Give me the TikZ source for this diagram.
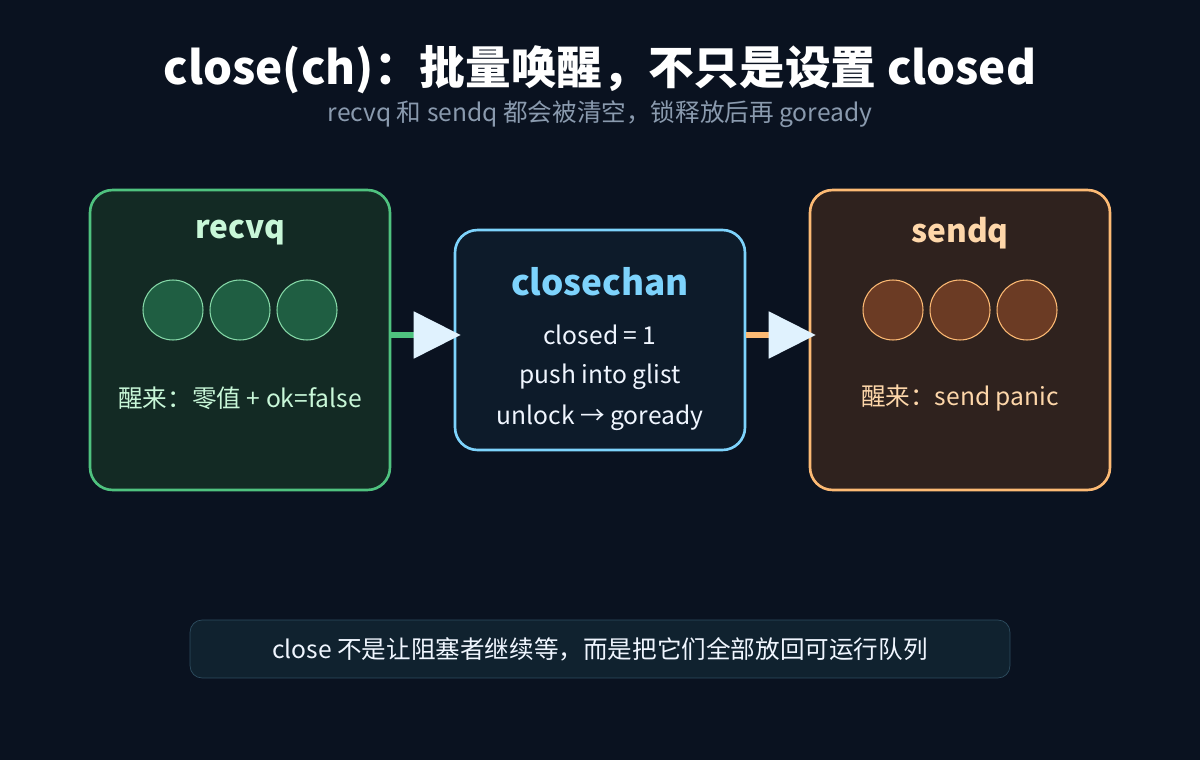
\documentclass[tikz,border=0pt]{standalone}
\usepackage{fontspec}
\setmainfont{Noto Sans CJK SC}
\usetikzlibrary{arrows.meta}
\definecolor{bg}{HTML}{0A1220}
\definecolor{gfill}{HTML}{132A24}\definecolor{gline}{HTML}{4FC27F}
\definecolor{gcirc}{HTML}{1F5E42}\definecolor{gcircl}{HTML}{86D9A8}\definecolor{gtext}{HTML}{C8F7D8}
\definecolor{bfill}{HTML}{0D1B2A}\definecolor{bline}{HTML}{7DD3FC}\definecolor{btext}{HTML}{F0F6FF}
\definecolor{ofill}{HTML}{2F221E}\definecolor{oline}{HTML}{FDBA74}
\definecolor{ocirc}{HTML}{6B3B24}\definecolor{otext}{HTML}{FED7AA}
\definecolor{head}{HTML}{E0F2FE}\definecolor{sub}{HTML}{8A9AAE}
\definecolor{nfill}{HTML}{10222F}\definecolor{nline}{HTML}{2E4D60}
\begin{document}
\begin{tikzpicture}[x=0.02cm,y=-0.02cm,
  box/.style={draw,line width=1.5pt,rounded corners=0.45cm,inner sep=0},
  circ/.style={circle,draw,minimum size=1.2cm,inner sep=0,line width=0.6pt},
  lbl/.style={font=\fontsize{14}{16}\selectfont},
  arr/.style={line width=3pt,-{Triangle[length=0.94cm,width=0.92cm,fill=head,color=head]},shorten >=-0.14cm}]
\fill[bg] (0,0) rectangle (1200,760);
\node[white,font=\bfseries\fontsize{26}{30}\selectfont] (title) at (600,70) {close(ch)：批量唤醒，不只是设置 closed};
\node[sub,font=\fontsize{14}{16}\selectfont] (subt) at (600,114) {recvq 和 sendq 都会被清空，锁释放后再 goready};
\node[box,draw=gline,fill=gfill,minimum width=6cm,minimum height=6cm] (recvq) at (240,340) {};
\node[box,draw=bline,fill=bfill,minimum width=5.8cm,minimum height=4.4cm] (cc) at (600,340) {};
\node[box,draw=oline,fill=ofill,minimum width=6cm,minimum height=6cm] (sendq) at (960,340) {};
\node[gtext,font=\bfseries\fontsize{18}{20}\selectfont] (rt) at (240,233) {recvq};
\foreach \i/\x in {1/173,2/240,3/307}{\node[circ,fill=gcirc,draw=gcircl] (rc\i) at (\x,310) {};}
\node[gtext,lbl] (rl) at (240,398) {醒来：零值 + ok=false};
\node[bline,font=\bfseries\fontsize{20}{22}\selectfont] (ct) at (600,282) {closechan};
\node[btext,lbl] (c1) at (600,335) {closed = 1};
\node[btext,lbl] (c2) at (600,377) {push into glist};
\node[btext,lbl] (c3) at (600,418) {unlock → goready};
\node[otext,font=\bfseries\fontsize{18}{20}\selectfont] (st) at (960,233) {sendq};
\foreach \i/\x in {1/893,2/960,3/1027}{\node[circ,fill=ocirc,draw=oline] (sc\i) at (\x,310) {};}
\node[otext,lbl] (sl) at (960,398) {醒来：send panic};
\draw[arr,gline] (recvq.east|-0,335) -- (cc.west|-0,335);
\draw[arr,oline] (cc.east|-0,335) -- (sendq.west|-0,335);
\node[draw=nline,fill=nfill,rounded corners=0.24cm,minimum width=16.4cm,minimum height=1.16cm,text=btext,lbl] (note) at (600,649) {close 不是让阻塞者继续等，而是把它们全部放回可运行队列};
\end{tikzpicture}
\end{document}
